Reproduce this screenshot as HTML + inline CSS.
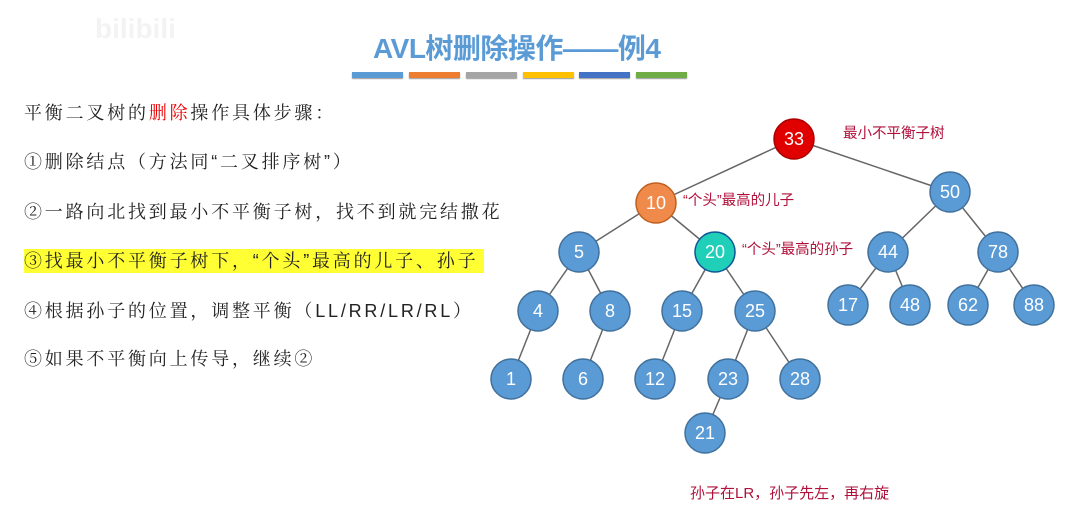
<!DOCTYPE html>
<html><head><meta charset="utf-8"><style>
body{margin:0;width:1071px;height:516px;background:#fff;position:relative;overflow:hidden;font-family:"Liberation Sans","Noto Sans CJK SC",sans-serif}
.t{position:absolute;left:24px;font-size:18px;letter-spacing:2.8px;color:#222;line-height:24px;font-family:"Liberation Sans","Noto Serif CJK SC",serif;white-space:nowrap}
.title{position:absolute;left:373px;top:27px;font-size:28px;font-weight:bold;color:#5b9bd5;white-space:nowrap;letter-spacing:-0.5px}
.bar{position:absolute;top:72px;height:6px;width:51px;box-shadow:0 1px 1px #999}
</style></head><body>
<div style="position:absolute;left:95px;top:13px;font-size:28px;font-weight:bold;color:#f3f3f3">bilibili</div>
<div class="title">AVL树删除操作——例4</div>
<div class="bar" style="left:352px;background:#5b9bd5"></div>
<div class="bar" style="left:409px;background:#ed7d31"></div>
<div class="bar" style="left:466px;background:#a5a5a5"></div>
<div class="bar" style="left:523px;background:#ffc000"></div>
<div class="bar" style="left:579px;background:#4472c4"></div>
<div class="bar" style="left:636px;background:#70ad47"></div>
<div class="t" style="top:101px">平衡二叉树的<span style="color:#e00">删除</span>操作具体步骤：</div>
<div class="t" style="top:150px">①删除结点（方法同“二叉排序树”）</div>
<div class="t" style="top:200px">②一路向北找到最小不平衡子树，找不到就完结撒花</div>
<div class="t" style="top:249px;background:#ffff33;padding-right:6px">③找最小不平衡子树下，“个头”最高的儿子、孙子</div>
<div class="t" style="top:299px">④根据孙子的位置，调整平衡（LL/RR/LR/RL）</div>
<div class="t" style="top:347px">⑤如果不平衡向上传导，继续②</div>
<svg width="1071" height="516" style="position:absolute;left:0;top:0" font-family="Liberation Sans, Noto Sans CJK SC, sans-serif">
<g stroke="#666" stroke-width="1.5">
<line x1="794" y1="139" x2="656" y2="203"/><line x1="794" y1="139" x2="950" y2="192"/>
<line x1="656" y1="203" x2="579" y2="252"/><line x1="656" y1="203" x2="715" y2="252"/>
<line x1="950" y1="192" x2="888" y2="252"/><line x1="950" y1="192" x2="998" y2="252"/>
<line x1="579" y1="252" x2="538" y2="311"/><line x1="579" y1="252" x2="610" y2="311"/>
<line x1="715" y1="252" x2="682" y2="311"/><line x1="715" y1="252" x2="755" y2="311"/>
<line x1="888" y1="252" x2="848" y2="305"/><line x1="888" y1="252" x2="910" y2="305"/>
<line x1="998" y1="252" x2="968" y2="305"/><line x1="998" y1="252" x2="1034" y2="305"/>
<line x1="538" y1="311" x2="511" y2="379"/><line x1="610" y1="311" x2="583" y2="379"/>
<line x1="682" y1="311" x2="655" y2="379"/><line x1="755" y1="311" x2="728" y2="379"/>
<line x1="755" y1="311" x2="800" y2="379"/><line x1="728" y1="379" x2="705" y2="433"/>
</g>
<g stroke="#41719c" stroke-width="1.5" fill="#5b9bd5">
<circle cx="950" cy="192" r="20"/><circle cx="579" cy="252" r="20"/><circle cx="888" cy="252" r="20"/><circle cx="998" cy="252" r="20"/>
<circle cx="538" cy="311" r="20"/><circle cx="610" cy="311" r="20"/><circle cx="682" cy="311" r="20"/><circle cx="755" cy="311" r="20"/>
<circle cx="848" cy="305" r="20"/><circle cx="910" cy="305" r="20"/><circle cx="968" cy="305" r="20"/><circle cx="1034" cy="305" r="20"/>
<circle cx="511" cy="379" r="20"/><circle cx="583" cy="379" r="20"/><circle cx="655" cy="379" r="20"/><circle cx="728" cy="379" r="20"/><circle cx="800" cy="379" r="20"/><circle cx="705" cy="433" r="20"/>
</g>
<circle cx="794" cy="139" r="20" fill="#e00000" stroke="#a00" stroke-width="1.5"/>
<circle cx="656" cy="203" r="20" fill="#f08a4b" stroke="#c06020" stroke-width="1.5"/>
<circle cx="715" cy="252" r="20" fill="#1fcfb8" stroke="#159" stroke-width="1.5"/>
<g fill="#fff" font-size="18" text-anchor="middle">
<text x="794" y="145">33</text><text x="656" y="209">10</text><text x="950" y="198">50</text>
<text x="579" y="258">5</text><text x="715" y="258">20</text><text x="888" y="258">44</text><text x="998" y="258">78</text>
<text x="538" y="317">4</text><text x="610" y="317">8</text><text x="682" y="317">15</text><text x="755" y="317">25</text>
<text x="848" y="311">17</text><text x="910" y="311">48</text><text x="968" y="311">62</text><text x="1034" y="311">88</text>
<text x="511" y="385">1</text><text x="583" y="385">6</text><text x="655" y="385">12</text><text x="728" y="385">23</text><text x="800" y="385">28</text><text x="705" y="439">21</text>
</g>
<g fill="#b0103a" font-size="14.5">
<text x="843" y="138">最小不平衡子树</text>
<text x="683" y="205">“个头”最高的儿子</text>
<text x="742" y="254">“个头”最高的孙子</text>
<text x="690" y="498" font-size="15">孙子在LR，孙子先左，再右旋</text>
</g>
</svg>
</body></html>
